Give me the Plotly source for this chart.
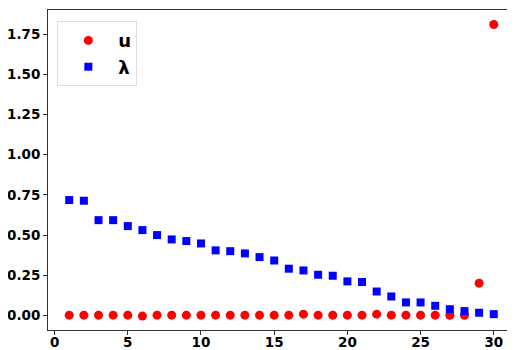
import plotly.graph_objects as go

x_vals = list(range(1, 31))
u_vals = [0.002, 0.002, 0.002, 0.002, 0.002, -0.004, 0.002, 0.002, 0.002, 0.002,
          0.002, 0.002, 0.002, 0.002, 0.002, 0.002, 0.008, 0.002, 0.002, 0.002,
          0.002, 0.008, 0.002, 0.002, 0.002, 0.002, 0.001, 0.001, 0.201, 1.81]
lam_vals = [0.718, 0.714, 0.593, 0.593, 0.556, 0.531, 0.500, 0.473, 0.463, 0.448,
            0.405, 0.400, 0.386, 0.363, 0.342, 0.291, 0.280, 0.253, 0.247, 0.212,
            0.208, 0.149, 0.118, 0.081, 0.081, 0.060, 0.039, 0.027, 0.017, 0.008]
x_ticks = [0, 5, 10, 15, 20, 25, 30]
y_ticks = [0.0, 0.25, 0.5, 0.75, 1.0, 1.25, 1.5, 1.75]

fig = go.Figure()
fig.add_trace(go.Scatter(x=x_vals, y=u_vals, mode="markers", name="u",
                         marker=dict(symbol="circle", size=9, color="red", line=dict(width=0))))
fig.add_trace(go.Scatter(x=x_vals, y=lam_vals, mode="markers", name="<b>λ</b>",
                         marker=dict(symbol="square", size=8, color="blue", line=dict(width=0))))

font = dict(family="DejaVu Sans", size=13.5, color="black", weight="bold")
axis_common = dict(showline=True, mirror=True, linecolor="#333", linewidth=1,
                   ticks="outside", ticklen=4, tickwidth=1, tickcolor="#333",
                   showgrid=False, zeroline=False, tickfont=font, automargin=False)
fig.update_xaxes(range=[-0.45, 31.45], tickvals=x_ticks, ticklabelstandoff=-4, **axis_common)
fig.update_yaxes(range=[-0.0905, 1.9005], tickvals=y_ticks, tickformat=".2f", **axis_common)

# page body has an 8px default margin, so the figure is offset by (8, 8)
fig.update_layout(
    width=507, height=342,
    margin=dict(l=40, r=0, t=2, b=20, autoexpand=False),
    plot_bgcolor="white", paper_bgcolor="white",
    legend=dict(x=0.02, y=0.965, xanchor="left", yanchor="top",
                bgcolor="rgba(255,255,255,0.8)", bordercolor="#ddd", borderwidth=1,
                font=dict(family="DejaVu Sans", size=18, color="black", weight="bold"),
                itemwidth=50),
    showlegend=True,
)
fig.write_html("out.html")
